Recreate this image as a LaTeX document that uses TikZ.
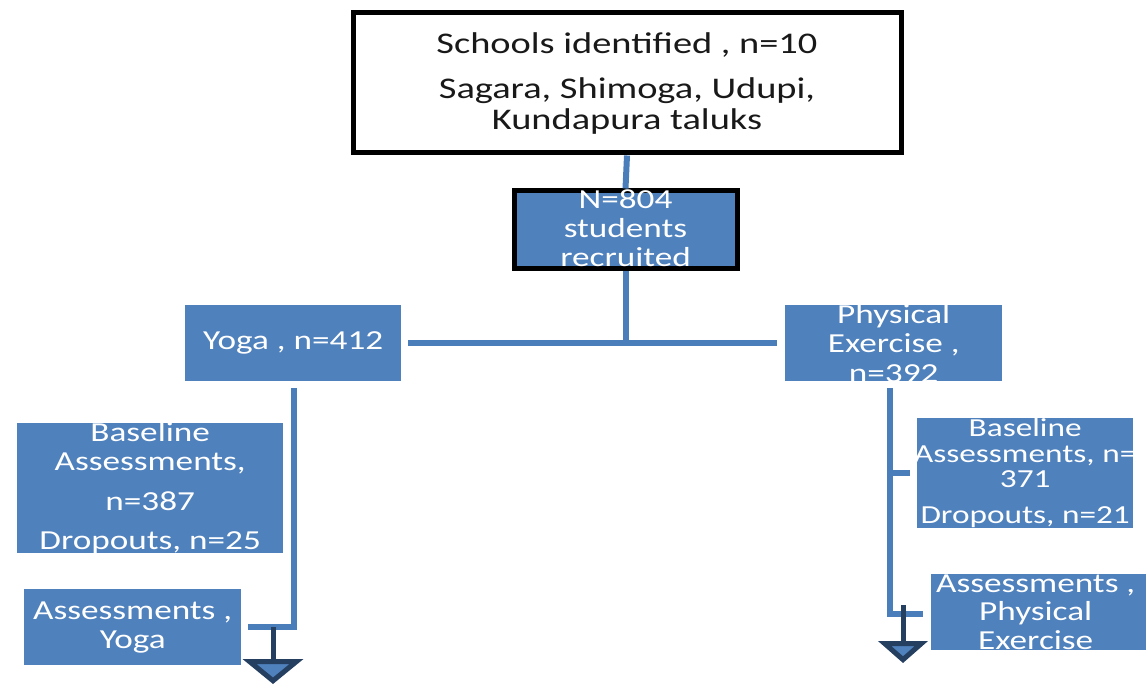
\documentclass[tikz,border=0pt]{standalone}
\usepackage{fontspec}
\setmainfont{Carlito}[FakeStretch=1.28]
\usetikzlibrary{arrows.meta}
\definecolor{boxblue}{HTML}{4F81BD}
\definecolor{lineblue}{HTML}{4A7EBB}
\definecolor{darknavy}{HTML}{243F60}
\tikzset{
  whitebox/.style={draw=black, line width=5pt, fill=white, inner sep=0pt, anchor=north west},
  bluebox/.style={fill=boxblue, inner sep=0pt, anchor=north west},
  blackbluebox/.style={draw=black, line width=5pt, fill=boxblue, inner sep=0pt, anchor=north west},
  txt/.style={align=center, inner sep=0pt, text=white, font=\fontsize{27.5}{29}\selectfont},
  toptxt/.style={align=center, inner sep=0pt, text=black!90, font=\fontsize{30}{31}\selectfont},
  conn/.style={draw=lineblue, line width=6pt},
  darr/.style={draw=darknavy, line width=5pt},
}
\begin{document}
\begin{tikzpicture}[x=1pt,y=-1pt]
\useasboundingbox (0,0) rectangle (1146,684);
% boxes
\node[whitebox, minimum width=548pt, minimum height=140pt] (top) at (350.5,10.5) {};
\node[toptxt] at ([yshift=-1pt]top.center) {Schools identified , n=10\\[14pt]Sagara, Shimoga, Udupi,\\Kundapura taluks};
\node[blackbluebox, minimum width=223pt, minimum height=78pt] (N) at (511.5,188.5) {};
\node[txt] at ([yshift=2pt]N.center) {N=804\\students\\recruited};
\node[bluebox, minimum width=216pt, minimum height=76pt] (yoga) at (185,305) {};
\node[txt] at (yoga.center) {Yoga , n=412};
\node[bluebox, minimum width=217pt, minimum height=76pt] (phys) at (785,305) {};
\node[txt, font=\fontsize{27.5}{29.5}\selectfont] at (phys.center) {Physical\\Exercise ,\\n=392};
\node[bluebox, minimum width=266pt, minimum height=130pt] (bl) at (17,423) {};
\node[txt] at (bl.center) {Baseline\\Assessments,\\[11pt]n=387\\[10pt]Dropouts, n=25};
\node[bluebox, minimum width=217pt, minimum height=76pt] (ay) at (24,589) {};
\node[txt] at (ay.center) {Assessments ,\\Yoga};
\node[bluebox, minimum width=216pt, minimum height=110pt] (br) at (917,418) {};
\node[txt, font=\fontsize{26}{25.5}\selectfont] at (br.center) {Baseline\\Assessments, n=\\371\\[10pt]Dropouts, n=21};
\node[bluebox, minimum width=215pt, minimum height=76pt] (ap) at (931,574) {};
\node[txt, font=\fontsize{27.5}{28.5}\selectfont] at ([xshift=-3pt]ap.center) {Assessments ,\\Physical\\Exercise};
% connectors
\draw[conn] (top.south) -- (N.north);
\coordinate (J) at (N.south |- yoga.east);
\draw[conn] (N.south) -- (J);
\draw[conn] ([xshift=7pt]yoga.east) -- ([xshift=-8pt]phys.west);
\draw[conn] ([xshift=1pt,yshift=-7pt]yoga.south) |- ([xshift=7pt]ay.east);
\coordinate (RV) at (890,388);
\draw[conn] (RV) |- ([xshift=-8pt,yshift=-2pt]ap.west);
\draw[conn] (RV |- br.west) -- ([xshift=-7pt]br.west);
% dark arrows
\coordinate (ya) at (273,627);
\coordinate (yaEnd) at (273,684);
\draw[darr, -{Triangle[width=60pt,length=25pt,fill=boxblue]}] (ya) -- (yaEnd);
\coordinate (pa) at (903,605);
\coordinate (paEnd) at (903,663);
\draw[darr, -{Triangle[width=49pt,length=22pt,fill=boxblue]}] (pa) -- (paEnd);
\end{tikzpicture}
\end{document}
